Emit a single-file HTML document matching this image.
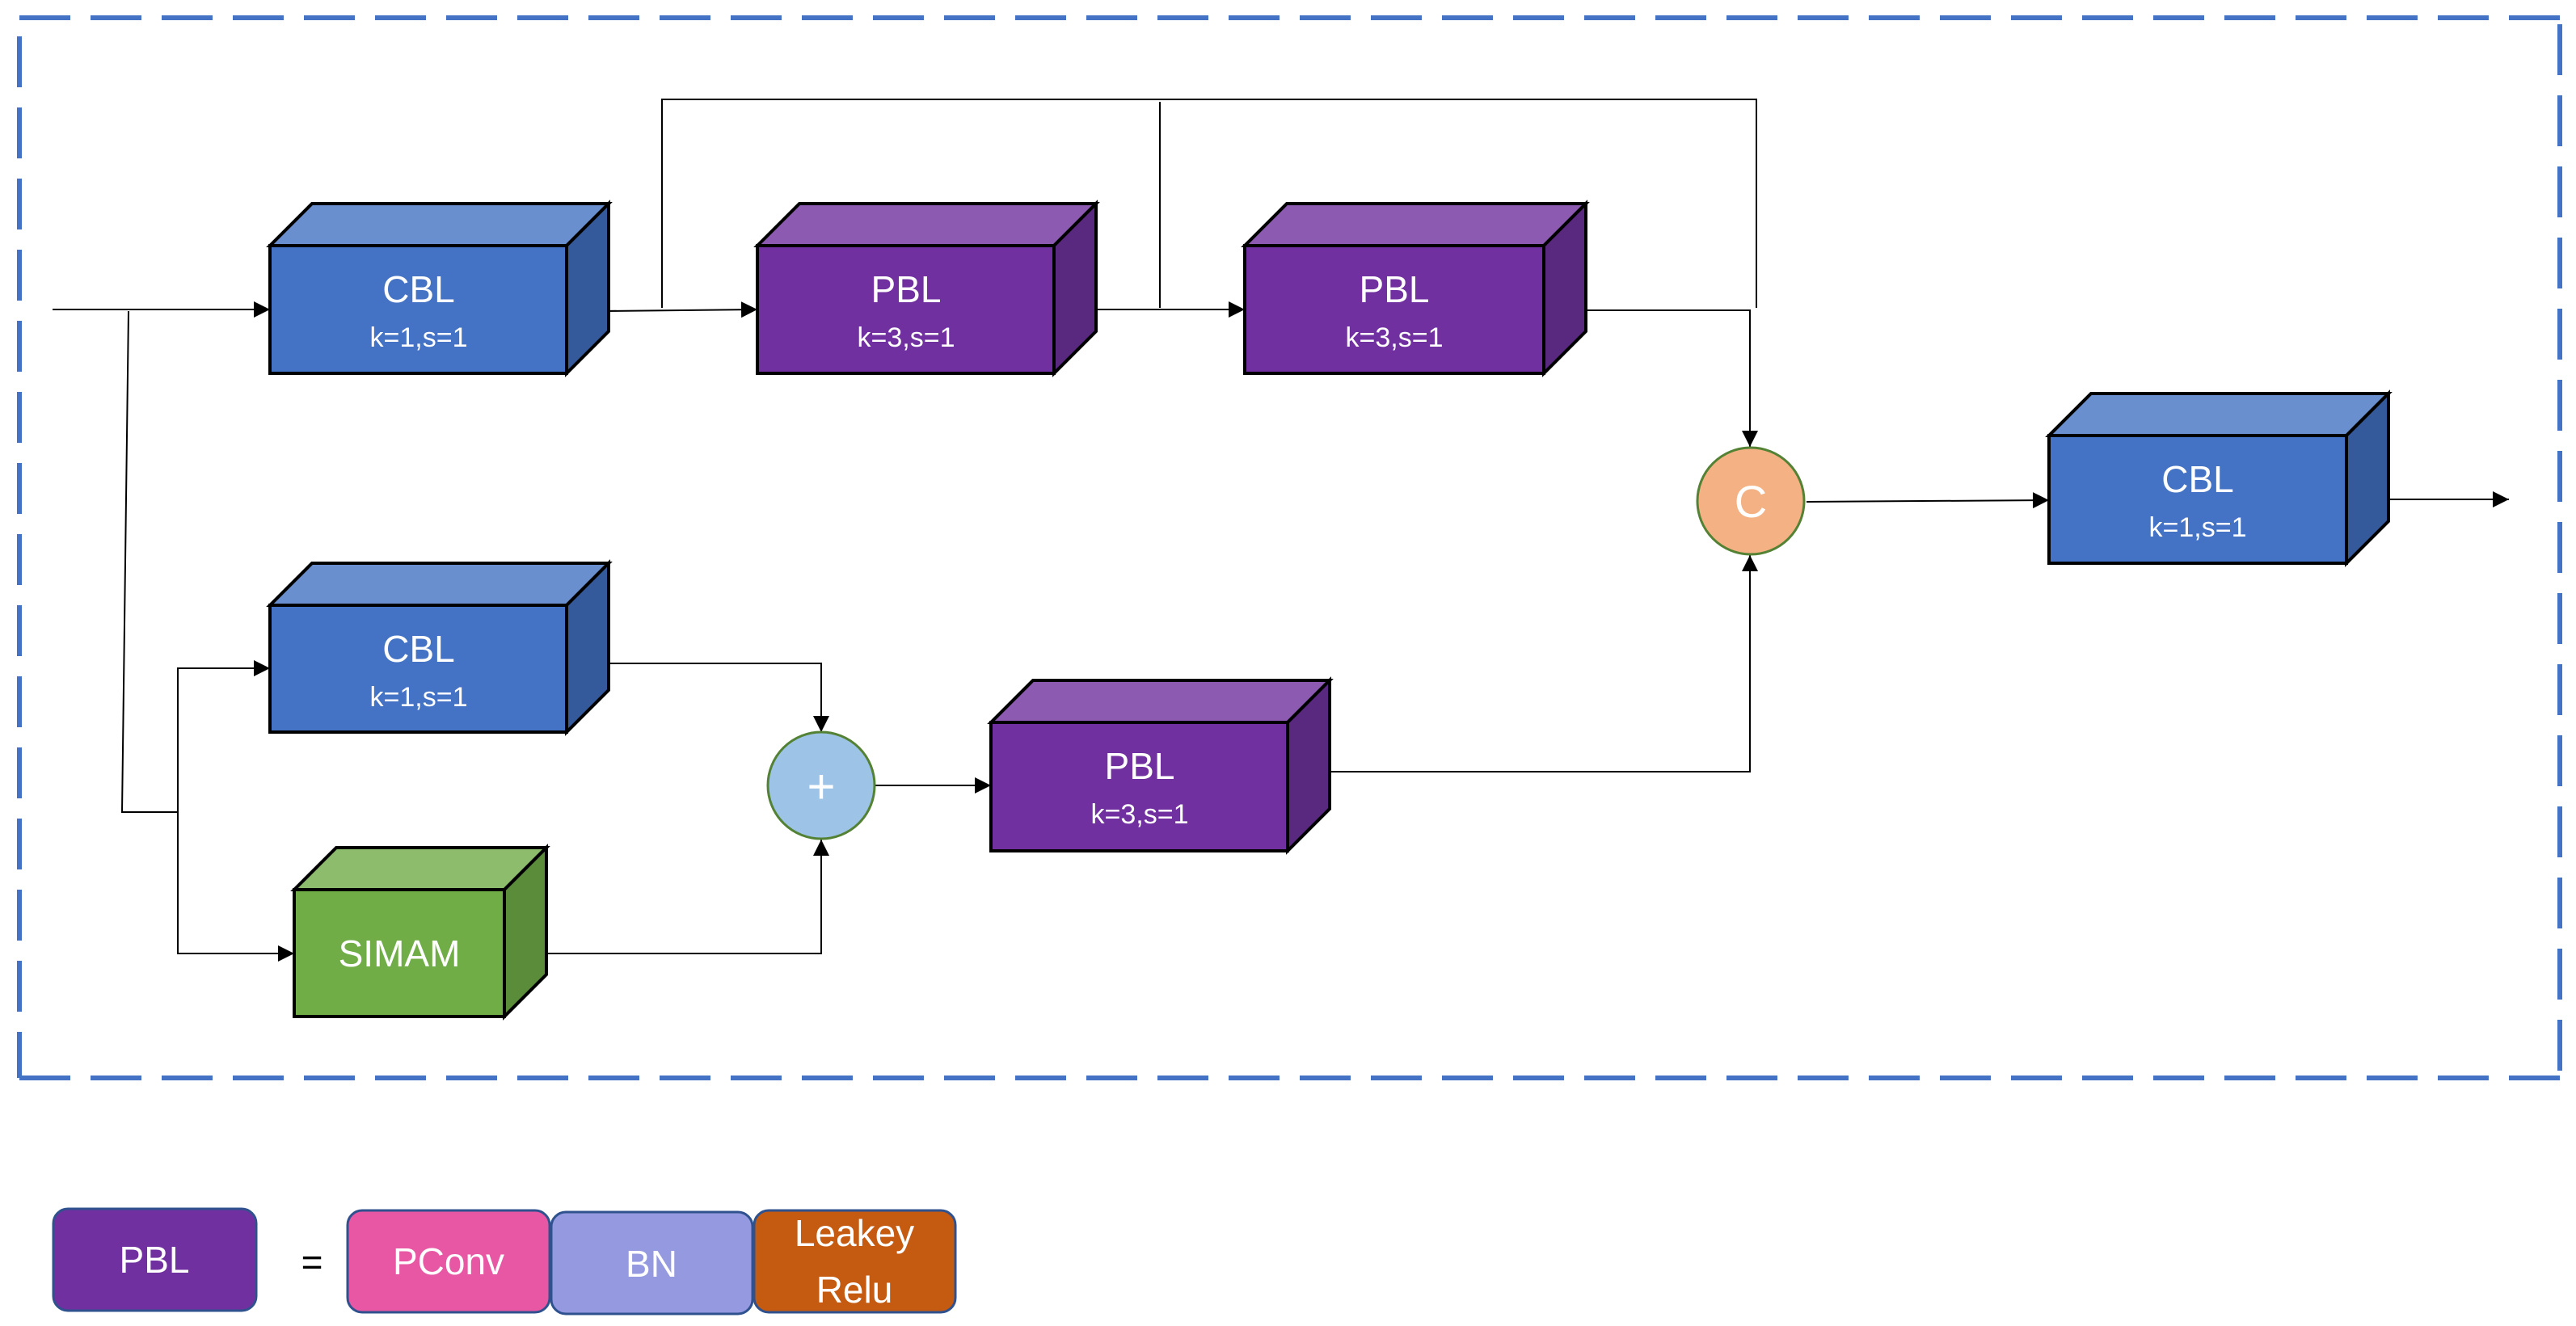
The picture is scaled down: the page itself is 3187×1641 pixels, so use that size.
<!DOCTYPE html>
<html><head><meta charset="utf-8"><style>
html,body{margin:0;padding:0;background:#fff;}
svg{display:block}
text{font-family:"Liberation Sans Narrow","Liberation Sans",sans-serif;fill:#fff;text-anchor:middle}
</style></head><body>
<svg width="3187" height="1641" viewBox="0 0 3187 1641" xmlns="http://www.w3.org/2000/svg">
<defs>
<marker id="a" markerWidth="10" markerHeight="10" refX="9" refY="5" orient="auto" markerUnits="userSpaceOnUse" viewBox="0 0 10 10">
<path d="M0,0 L10,5 L0,10 z" fill="#000"/></marker>
<marker id="b" markerWidth="20" markerHeight="20" refX="20" refY="10" orient="auto" markerUnits="userSpaceOnUse" viewBox="0 0 20 20">
<path d="M0,0 L20,10 L0,20 z" fill="#000"/></marker>
</defs>
<!-- dashed frame -->
<g stroke="#4472C4" stroke-width="6" fill="none" stroke-dasharray="63,25">
<line x1="24" y1="22" x2="3167" y2="22"/>
<line x1="24" y1="1334" x2="3167" y2="1334"/>
<line x1="24" y1="45" x2="24" y2="1334"/>
<line x1="3167" y1="30" x2="3167" y2="1334"/>
</g>

<!-- connectors -->
<g stroke="#000" stroke-width="2" fill="none">
<line x1="65" y1="383" x2="334" y2="383" marker-end="url(#b)"/>
<polyline points="159,385 151,1005 220,1005"/>
<polyline points="334,827 220,827 220,1180 364,1180" marker-end="url(#b)"/>
<line x1="220" y1="827" x2="334" y2="827" marker-end="url(#b)"/>
<line x1="745" y1="385" x2="937" y2="383" marker-end="url(#b)"/>
<polyline points="819,381 819,123 2173,123 2173,381"/>
<line x1="1435" y1="126" x2="1435" y2="381"/>
<line x1="1304" y1="383" x2="1540" y2="383" marker-end="url(#b)"/>
<polyline points="1934,384 2165,384 2165,553" marker-end="url(#b)"/>
<polyline points="1618,955 2165,955 2165,687" marker-end="url(#b)"/>
<line x1="2235" y1="621" x2="2535" y2="619" marker-end="url(#b)"/>
<line x1="2926" y1="618" x2="3104" y2="618" marker-end="url(#b)"/>
<polyline points="752,821 1016,821 1016,906" marker-end="url(#b)"/>
<polyline points="676,1180 1016,1180 1016,1039" marker-end="url(#b)"/>
<line x1="1082" y1="972" x2="1226" y2="972" marker-end="url(#b)"/>
</g>

<!-- boxes: front x,y,w,h ; depth 52 -->
<g stroke="#000" stroke-width="4" stroke-linejoin="miter">
<!-- CBL1 -->
<polygon points="334,304 386,252 753,252 701,304" fill="#6A8FCE"/>
<polygon points="701,304 753,252 753,410 701,462" fill="#345A9C"/>
<rect x="334" y="304" width="367" height="158" fill="#4472C4"/>
<!-- PBL1 -->
<polygon points="937,304 989,252 1356,252 1304,304" fill="#8C5AB0"/>
<polygon points="1304,304 1356,252 1356,410 1304,462" fill="#59287F"/>
<rect x="937" y="304" width="367" height="158" fill="#7030A0"/>
<!-- PBL2 -->
<polygon points="1540,304 1592,252 1962,252 1910,304" fill="#8C5AB0"/>
<polygon points="1910,304 1962,252 1962,410 1910,462" fill="#59287F"/>
<rect x="1540" y="304" width="370" height="158" fill="#7030A0"/>
<!-- CBL2 -->
<polygon points="334,749 386,697 753,697 701,749" fill="#6A8FCE"/>
<polygon points="701,749 753,697 753,854 701,906" fill="#345A9C"/>
<rect x="334" y="749" width="367" height="157" fill="#4472C4"/>
<!-- SIMAM -->
<polygon points="364,1101 416,1049 676,1049 624,1101" fill="#8DBC6C"/>
<polygon points="624,1101 676,1049 676,1206 624,1258" fill="#5A8C3A"/>
<rect x="364" y="1101" width="260" height="157" fill="#70AD47"/>
<!-- PBL3 -->
<polygon points="1226,894 1278,842 1645,842 1593,894" fill="#8C5AB0"/>
<polygon points="1593,894 1645,842 1645,1001 1593,1053" fill="#59287F"/>
<rect x="1226" y="894" width="367" height="159" fill="#7030A0"/>
<!-- CBL3 -->
<polygon points="2535,539 2587,487 2955,487 2903,539" fill="#6A8FCE"/>
<polygon points="2903,539 2955,487 2955,645 2903,697" fill="#345A9C"/>
<rect x="2535" y="539" width="368" height="158" fill="#4472C4"/>
</g>

<!-- circles -->
<circle cx="2166" cy="620" r="66" fill="#F4B183" stroke="#548235" stroke-width="3"/>
<circle cx="1016" cy="972" r="66" fill="#9DC3E6" stroke="#548235" stroke-width="3"/>
<text x="2166" y="640" font-size="56">C</text>
<text x="1016" y="994" font-size="60">+</text>

<!-- labels -->
<g font-size="46">
<text x="518" y="374">CBL</text>
<text x="1121" y="374">PBL</text>
<text x="1725" y="374">PBL</text>
<text x="518" y="819">CBL</text>
<text x="494" y="1196">SIMAM</text>
<text x="1410" y="964">PBL</text>
<text x="2719" y="609">CBL</text>
</g>
<g font-size="34">
<text x="518" y="429">k=1,s=1</text>
<text x="1121" y="429">k=3,s=1</text>
<text x="1725" y="429">k=3,s=1</text>
<text x="518" y="874">k=1,s=1</text>
<text x="1410" y="1019">k=3,s=1</text>
<text x="2719" y="664">k=1,s=1</text>
</g>

<!-- legend -->
<g stroke="#2F528F" stroke-width="3">
<rect x="66" y="1496" width="251" height="126" rx="18" fill="#7030A0"/>
<rect x="430" y="1498" width="250" height="126" rx="18" fill="#E857A4"/>
<rect x="682" y="1500" width="249" height="126" rx="18" fill="#9499E0"/>
<rect x="933" y="1498" width="249" height="126" rx="18" fill="#C55A11"/>
</g>
<g font-size="46">
<text x="191" y="1575">PBL</text>
<text x="555" y="1577">PConv</text>
<text x="806" y="1580">BN</text>
<text x="1057" y="1542">Leakey</text>
<text x="1057" y="1612">Relu</text>
<text x="386" y="1578" style="fill:#000">=</text>
</g>
</svg>
</body></html>
